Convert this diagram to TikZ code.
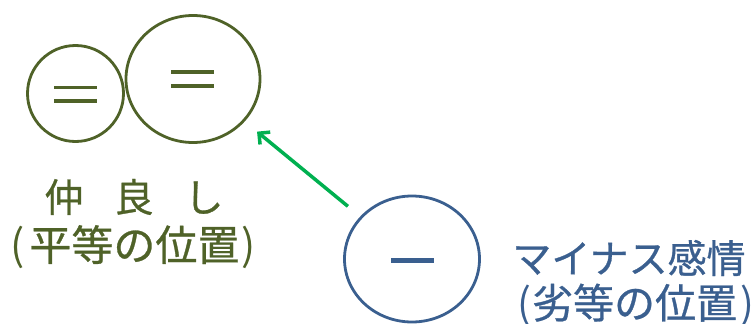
\documentclass[tikz,border=0pt]{standalone}
\usepackage{fontspec}
\setmainfont{Noto Sans CJK JP}
\newfontfamily\capfont[FakeBold=0.7]{Noto Sans CJK JP}
\newfontfamily\parenfont{Noto Sans CJK JP}
\usetikzlibrary{arrows.meta,shapes.geometric}
\definecolor{olive}{HTML}{4F6228}
\definecolor{navy}{HTML}{3A5F8F}
\definecolor{arrowgreen}{HTML}{00B050}
% thin brackets round a caption line
\newcommand{\lpar}{{\parenfont(}}
\newcommand{\rpar}{{\parenfont)}}
\tikzset{
  ring/.style={draw=#1, line width=2.8pt, ellipse, inner sep=0pt},
  bar/.style={fill=#1, draw=none},
  caption/.style 2 args={text=#1, inner sep=0pt, font=\capfont\fontsize{#2}{44}\selectfont},
}
\begin{document}
\begin{tikzpicture}[x=1pt,y=-1pt]
  \useasboundingbox (0,0) rectangle (753,324);
  % two friendly circles of equal standing
  \node[ring=olive, minimum width=96pt, minimum height=96pt] (eqA) at (75.5,93.5) {};
  \node[ring=olive, minimum width=134pt, minimum height=127pt] (eqB) at (193,79) {};
  \fill[bar=olive] (54.3,85.6) rectangle (97,89.4);
  \fill[bar=olive] (54.3,98.7) rectangle (97,102.6);
  \fill[bar=olive] (171,70.2) rectangle (214,74);
  \fill[bar=olive] (171,83.8) rectangle (214,88.2);
  % the circle of negative feelings
  \node[ring=navy, minimum width=135pt, minimum height=126pt] (neg) at (412,259) {};
  \fill[bar=navy] (391,257.7) rectangle (434,262.7);
  % arrow from the negative circle toward the pair
  \draw[arrowgreen, line width=3.5pt, -{Straight Barb[length=8pt,width=16pt]},
        shorten <=16pt, shorten >=16pt] (neg) -- (eqB);
  % captions
  \node[caption={olive}{39}] (t1) at (134,197) {仲\hspace{31pt}良\hspace{31pt}し};
  \node[caption={olive}{42}, anchor=west] (t2) at (10,247) {\lpar\hspace{5pt}平等の位置\hspace{2pt}\rpar};
  \node[caption={navy}{39}] (t3) at (629,258) {マイナス感情};
  \node[caption={navy}{41}, anchor=west] (t4) at (517,305) {\lpar\hspace{1pt}劣等の位置\hspace{3pt}\rpar};
\end{tikzpicture}
\end{document}
